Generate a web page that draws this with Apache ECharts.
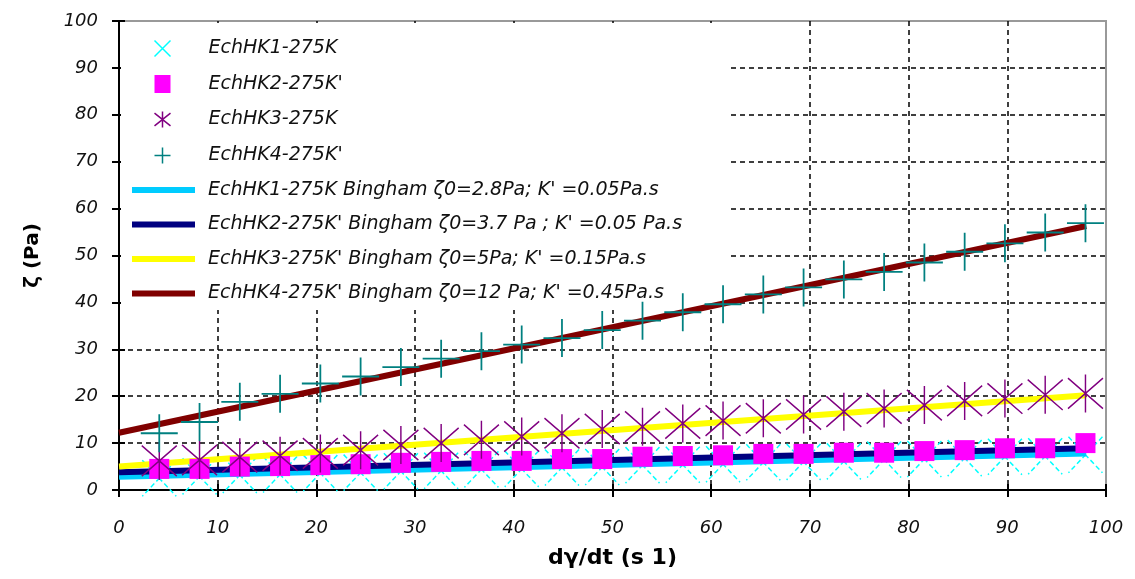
<!DOCTYPE html>
<html><head><meta charset="utf-8">
<script src="https://cdn.jsdelivr.net/npm/echarts@6/dist/echarts.min.js"></script>
<style>html,body{margin:0;padding:0;background:#fff}#c{width:1135px;height:579px}</style>
</head><body><div id="c"></div>
<script>
// ---- data ----
const axisTicks = [0, 10, 20, 30, 40, 50, 60, 70, 80, 90, 100];
const shearRate = [4.08, 8.16, 12.24, 16.32, 20.4, 24.48, 28.56, 32.64, 36.72, 40.8, 44.88, 48.96,
                   53.04, 57.12, 61.2, 65.28, 69.36, 73.44, 77.52, 81.6, 85.68, 89.76, 93.84, 97.92];
const tauK1 = [2.5, 2.9, 3.2, 3.3, 3.6, 3.7, 4.0, 4.1, 4.4, 4.5, 4.8, 4.9, 5.3, 5.4, 5.5, 5.9, 6.0, 6.1, 6.5, 6.6, 6.8, 7.1, 7.2, 7.5];
const tauK2 = [4.5, 4.5, 5.0, 5.1, 5.3, 5.5, 5.8, 6.0, 6.2, 6.2, 6.6, 6.6, 7.1, 7.25, 7.4, 7.7, 7.7, 7.95, 7.95, 8.3, 8.5, 8.9, 8.9, 10.0];
const tauK3 = [6.2, 6.4, 7.0, 7.3, 7.8, 8.5, 9.6, 10.0, 10.7, 11.4, 12.1, 13.0, 13.5, 14.2, 14.8, 15.3, 16.1, 16.7, 17.4, 18.1, 19.0, 19.5, 20.3, 20.6];
const tauK4 = [12.1, 14.5, 18.8, 20.5, 22.7, 24.2, 26.2, 28.0, 29.6, 31.0, 32.4, 34.1, 36.1, 37.9, 39.6, 41.7, 43.2, 44.9, 46.5, 48.5, 50.8, 52.6, 54.9, 56.9];
const binghamX = [0, 98];
const binghamK1 = [2.8, 7.8];
const binghamK2 = [3.8, 8.9];
const binghamK3 = [5.0, 20.2];
const binghamK4 = [12.2, 56.3];
const scatterNames = ["EchHK1-275K", "EchHK2-275K'", "EchHK3-275K", "EchHK4-275K'"];
const lineNames = [
  "EchHK1-275K Bingham \u03B60=2.8Pa; K' =0.05Pa.s",
  "EchHK2-275K' Bingham \u03B60=3.7 Pa ; K' =0.05 Pa.s",
  "EchHK3-275K' Bingham \u03B60=5Pa; K' =0.15Pa.s",
  "EchHK4-275K' Bingham \u03B60=12 Pa; K' =0.45Pa.s"
];
const xTitle = "d\u03B3/dt (s 1)";
const yTitle = "\u03B6 (Pa)";

// ---- helpers ----
const pair = (xs, ys) => xs.map((x, i) => [x, ys[i]]);
const FONT = 'DejaVu Sans';
const symX = 'path://M0,0 L10,10 M10,0 L0,10';
const symAst = 'path://M5,0 L5,10 M0,1 L10,9 M10,1 L0,9';
const symPlus = 'path://M5,0 L5,10 M0,5 L10,5';

const grid = { left: 119, right: 29, top: 21, bottom: 89, show: true, borderColor: '#999', borderWidth: 2 };
const tickMin = axisTicks[0], tickMax = axisTicks[axisTicks.length - 1], tickStep = axisTicks[1] - axisTicks[0];
const labelStyle = { fontFamily: FONT, fontStyle: 'italic', fontSize: 18, color: '#111' };
const splitStyle = { show: true, showMinLine: false, showMaxLine: false, lineStyle: { color: '#000', type: [5, 4], width: 1.5 } };

function mainAxis(isX) {
  return {
    type: 'value', min: tickMin, max: tickMax, interval: tickStep,
    axisLine: { show: true, onZero: false, lineStyle: { color: '#000', width: 2 } },
    axisTick: { show: true, inside: false, length: 7, lineStyle: { color: '#000', width: 2 } },
    axisLabel: Object.assign({ margin: isX ? 29 : 21 }, labelStyle),
    splitLine: splitStyle,
    name: isX ? xTitle : yTitle,
    nameLocation: 'middle',
    nameGap: isX ? 57 : 76,
    nameTextStyle: { fontFamily: FONT, fontSize: isX ? 22 : 20, fontWeight: 'bold', color: '#000' }
  };
}
function tickAxis() {
  return {
    type: 'value', min: tickMin, max: tickMax, interval: tickStep,
    axisLine: { show: false }, axisLabel: { show: false }, splitLine: { show: false },
    axisTick: { show: true, inside: true, length: 6, lineStyle: { color: '#000', width: 2 } }
  };
}

const option = {
  animation: false,
  backgroundColor: '#fff',
  grid: grid,
  xAxis: [mainAxis(true), Object.assign(tickAxis(), { position: 'bottom' })],
  yAxis: [mainAxis(false), Object.assign(tickAxis(), { position: 'left' })],
  graphic: { elements: [{ type: 'rect', z: 1, shape: { x: 121, y: 23, width: 610, height: 287 }, style: { fill: '#fff' } }] },
  legend: [
    {
      data: [
        { name: scatterNames[0], itemStyle: { color: 'none', borderColor: '#00FFFF', borderWidth: 1.5, opacity: 1 } },
        { name: scatterNames[1], itemStyle: { color: '#FF00FF', borderWidth: 0, opacity: 1 } },
        { name: scatterNames[2], itemStyle: { color: 'none', borderColor: '#800080', borderWidth: 1.5, opacity: 1 } },
        { name: scatterNames[3], itemStyle: { color: 'none', borderColor: '#008080', borderWidth: 1.5, opacity: 1 } }
      ],
      orient: 'vertical', left: 152, top: 38, padding: 0,
      itemWidth: 16, itemHeight: 18, itemGap: 15, selectedMode: false,
      textStyle: { fontFamily: FONT, fontStyle: 'italic', fontSize: 19, color: '#111', lineHeight: 20, padding: [0, 0, 0, 33] }
    },
    {
      data: lineNames.map(n => ({ name: n, icon: 'rect' })),
      orient: 'vertical', left: 132, top: 180, padding: 0,
      itemWidth: 63, itemHeight: 6, itemGap: 14.5, selectedMode: false,
      textStyle: { fontFamily: FONT, fontStyle: 'italic', fontSize: 19, color: '#111', lineHeight: 20, padding: [0, 0, 0, 8] }
    }
  ],
  series: [
    { name: scatterNames[0], type: 'scatter', data: pair(shearRate, tauK1), symbol: symX, symbolSize: [34, 36],
      itemStyle: { color: 'none', borderColor: '#00FFFF', borderWidth: 1.5, borderType: [5, 3], opacity: 1 } },
    { name: lineNames[0], type: 'line', data: pair(binghamX, binghamK1), symbol: 'none', color: '#00CCFF', lineStyle: { width: 6, color: '#00CCFF' } },
    { name: lineNames[1], type: 'line', data: pair(binghamX, binghamK2), symbol: 'none', color: '#000080', lineStyle: { width: 6, color: '#000080' } },
    { name: lineNames[2], type: 'line', data: pair(binghamX, binghamK3), symbol: 'none', color: '#FFFF00', lineStyle: { width: 6, color: '#FFFF00' } },
    { name: lineNames[3], type: 'line', data: pair(binghamX, binghamK4), symbol: 'none', color: '#800000', lineStyle: { width: 6, color: '#800000' } },
    { name: scatterNames[1], type: 'scatter', z: 4, data: pair(shearRate, tauK2), symbol: 'rect', symbolSize: [20, 20],
      itemStyle: { color: '#FF00FF', opacity: 1 } },
    { name: scatterNames[2], type: 'scatter', z: 4, data: pair(shearRate, tauK3), symbol: symAst, symbolSize: [35, 38],
      itemStyle: { color: 'none', borderColor: '#800080', borderWidth: 1.5, opacity: 1 } },
    { name: scatterNames[3], type: 'scatter', z: 4, data: pair(shearRate, tauK4), symbol: symPlus, symbolSize: [37, 38],
      itemStyle: { color: 'none', borderColor: '#008080', borderWidth: 1.8, opacity: 1 } }
  ]
};
const chart = echarts.init(document.getElementById('c'), null, { renderer: 'canvas' });
chart.setOption(option);
</script></body></html>
